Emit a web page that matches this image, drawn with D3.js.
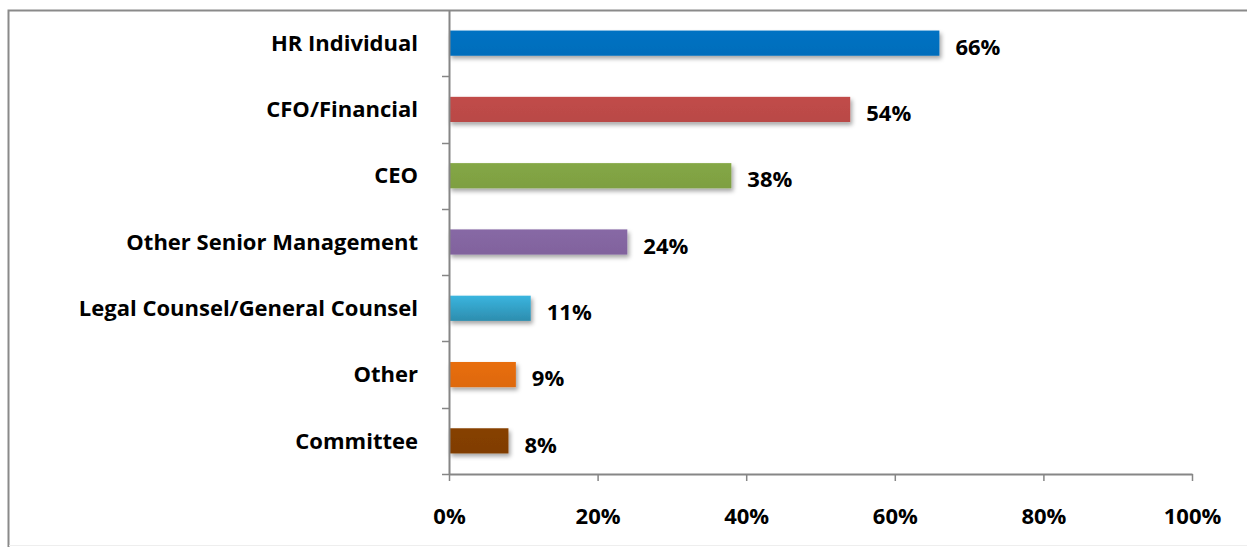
<!DOCTYPE html>
<html>
<head>
<meta charset="utf-8">
<script src="https://cdn.jsdelivr.net/npm/d3@7"></script>
<style>
  html, body { margin: 0; padding: 0; background: #fff; }
  text { font-family: "Open Sans", sans-serif; font-weight: bold; fill: #000; }
</style>
</head>
<body>
<div id="chart"></div>
<script>
// Chart data
const categories = ["HR Individual", "CFO/Financial", "CEO", "Other Senior Management",
    "Legal Counsel/General Counsel", "Other", "Committee"];
const values = [66, 54, 38, 24, 11, 9, 8];
const barColors = ["#0070C0", "#BE4B48", "#82A444", "#8566A2", "#35A6CC", "#E46C0A", "#843F00"];
const tickValues = [0, 20, 40, 60, 80, 100];

const W = 1247, H = 547;
const margin = { top: 10, right: 55, bottom: 73, left: 449 };
const width = W - margin.left - margin.right;
const height = H - margin.top - margin.bottom;
const fontSize = "22px";

const svg = d3.select("#chart").append("svg")
    .attr("width", W)
    .attr("height", H);

// Filters and gradients
const defs = svg.append("defs");
const shadow = defs.append("filter").attr("id", "shadow")
    .attr("x", "-10%").attr("y", "-30%").attr("width", "130%").attr("height", "180%");
shadow.append("feDropShadow")
    .attr("dx", 2).attr("dy", 3).attr("stdDeviation", 2)
    .attr("flood-color", "#000").attr("flood-opacity", 0.35);

barColors.forEach((c, i) => {
    const g = defs.append("linearGradient").attr("id", "grad" + i)
        .attr("x1", 0).attr("y1", 0).attr("x2", 0).attr("y2", 1);
    const base = d3.color(c);
    g.append("stop").attr("offset", "0%").attr("stop-color", base.brighter(i === 4 ? 0.25 : 0.05));
    g.append("stop").attr("offset", "100%").attr("stop-color", base.darker(i === 4 ? 0.45 : 0.08));
});

// Outer frame (partially cropped at right/bottom)
svg.append("path")
    .attr("d", `M8.5,${H} V10.5 H${W}`)
    .attr("fill", "none")
    .attr("stroke", "#8a8a8a")
    .attr("stroke-width", 2);
svg.append("line")
    .attr("x1", 9).attr("x2", W).attr("y1", H - 1.5).attr("y2", H - 1.5)
    .attr("stroke", "#eeeeee").attr("stroke-width", 1);

const g = svg.append("g")
    .attr("transform", `translate(${margin.left},${margin.top})`);

// Scales
const x = d3.scaleLinear().domain([0, 100]).range([0, width]);
const y = d3.scaleBand().domain(categories).range([0, height]).paddingInner(0.62).paddingOuter(0.31);
const band = d3.scaleBand().domain(categories).range([0, height]);

// Bars
g.selectAll(".bar")
    .data(categories)
    .enter().append("rect")
    .attr("class", "bar")
    .attr("x", 0)
    .attr("y", d => y(d))
    .attr("width", (d, i) => x(values[i]))
    .attr("height", y.bandwidth())
    .attr("fill", (d, i) => `url(#grad${i})`)
    .attr("filter", "url(#shadow)");

// Value labels
g.selectAll(".val")
    .data(categories)
    .enter().append("text")
    .attr("class", "val")
    .attr("x", (d, i) => x(values[i]) + 16)
    .attr("y", d => y(d) + y.bandwidth() / 2 + 4)
    .attr("dy", "0.35em")
    .style("font-size", fontSize)
    .text((d, i) => values[i] + "%");

// Y axis
const yAxis = g.append("g")
    .call(d3.axisLeft(band).tickSize(0).tickFormat(""));
yAxis.select(".domain").attr("stroke", "#868686").attr("stroke-width", 2);
// tick marks between categories
g.selectAll(".ytick")
    .data(d3.range(1, categories.length + 1))
    .enter().append("line")
    .attr("x1", -7).attr("x2", 0)
    .attr("y1", i => Math.round(i * band.step()) + 0.5)
    .attr("y2", i => Math.round(i * band.step()) + 0.5)
    .attr("stroke", "#868686").attr("stroke-width", 1.5);

// Category labels
g.selectAll(".cat")
    .data(categories)
    .enter().append("text")
    .attr("class", "cat")
    .attr("x", -31)
    .attr("y", d => band(d) + band.bandwidth() / 2)
    .attr("dy", "0.35em")
    .attr("text-anchor", "end")
    .style("font-size", fontSize)
    .text(d => d);

// X axis
const xAxis = g.append("g")
    .attr("transform", `translate(0,${height})`)
    .call(d3.axisBottom(x).tickValues(tickValues).tickSize(7).tickSizeOuter(0).tickPadding(27)
        .tickFormat(d => d + "%"));
xAxis.select(".domain").attr("stroke", "#868686").attr("stroke-width", 2);
xAxis.selectAll(".tick line").attr("stroke", "#868686").attr("stroke-width", 1.5);
xAxis.selectAll(".tick text")
    .style("font-size", fontSize)
    .style("font-family", "'Open Sans', sans-serif")
    .style("font-weight", "bold")
    .attr("fill", "#000");
</script>
</body>
</html>
